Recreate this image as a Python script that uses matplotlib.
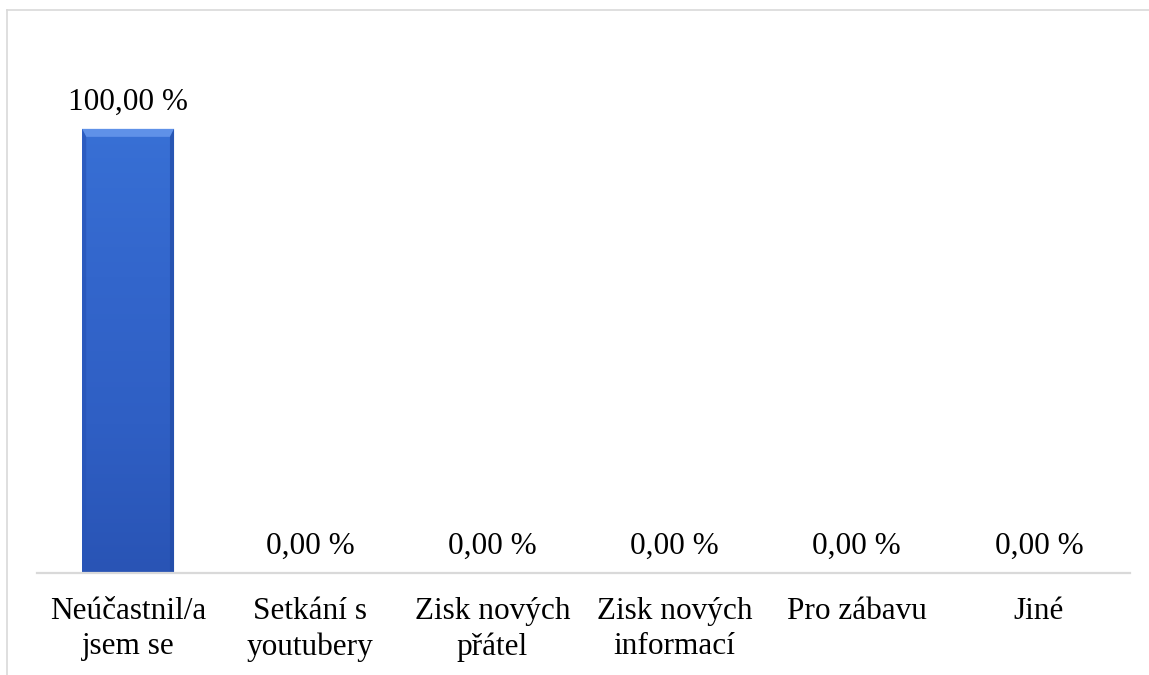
import numpy as np
import matplotlib
matplotlib.use('Agg')
import matplotlib.pyplot as plt
from matplotlib.lines import Line2D
from matplotlib.colors import LinearSegmentedColormap

# data
categories = ['Neúčastnil/a\njsem se', 'Setkání s\nyoutubery', 'Zisk nových\npřátel',
              'Zisk nových\ninformací', 'Pro zábavu', 'Jiné']
values = [100.0, 0.0, 0.0, 0.0, 0.0, 0.0]
labels = ['100,00 %', '0,00 %', '0,00 %', '0,00 %', '0,00 %', '0,00 %']

plt.rcParams['font.family'] = ['Liberation Serif', 'DejaVu Serif']

fig = plt.figure(figsize=(11.49, 6.75), dpi=100)
ax = fig.add_axes([0.0322, 0.1511, 0.9513, 0.7896])

x = np.arange(len(categories))
bars = ax.bar(x, values, width=0.505, color='#3366cc', edgecolor='none', zorder=2)

# gradient fill + bevel, like the office bar style
grad = LinearSegmentedColormap.from_list('g', ['#2954b5', '#2f5fc4', '#3366cc', '#3870d5'])
for b in bars:
    h = b.get_height()
    if h <= 0:
        continue
    x0, w = b.get_x(), b.get_width()
    img = ax.imshow(np.linspace(0, 1, 256).reshape(-1, 1), cmap=grad, origin='lower',
                    extent=[x0, x0 + w, 0, h], aspect='auto', zorder=2.1)
    img.set_clip_path(b)
    bh = 1.8
    sw = 0.045
    ax.fill([x0, x0 + w, x0 + w * (1 - sw), x0 + w * sw], [h, h, h - bh, h - bh],
            color='#5f91e8', zorder=2.2, linewidth=0)
    ax.fill([x0, x0 + w * sw, x0 + w * sw, x0], [h, h - bh, 0, 0],
            color='#2855b8', alpha=0.7, zorder=2.2, linewidth=0)
    ax.fill([x0 + w, x0 + w * (1 - sw), x0 + w * (1 - sw), x0 + w], [h, h - bh, 0, 0],
            color='#234ca6', alpha=0.7, zorder=2.2, linewidth=0)

for xi, v, lab in zip(x, values, labels):
    ax.annotate(lab, (xi, v), xytext=(0, 9), textcoords='offset points',
                ha='center', va='bottom', fontsize=22.5, color='black')

ax.set_xlim(-0.5, len(categories) - 0.5)
ax.set_ylim(0, 120)
ax.set_xticks(x)
ax.set_xticklabels(categories, fontsize=22.5, linespacing=1.3)
ax.tick_params(axis='x', length=0, pad=17)
ax.set_yticks([])
for s in ['top', 'right', 'left']:
    ax.spines[s].set_visible(False)
ax.spines['bottom'].set_color('#d9d9d9')
ax.spines['bottom'].set_linewidth(1.6)

# outer chart border (cut off at the right and bottom)
fig.add_artist(Line2D([7 / 1149, 1.0], [1 - 10 / 675, 1 - 10 / 675], color='#d9d9d9', lw=1.2))
fig.add_artist(Line2D([7 / 1149, 7 / 1149], [0, 1 - 10 / 675], color='#d9d9d9', lw=1.2))

fig.savefig('out.png', dpi=100)
